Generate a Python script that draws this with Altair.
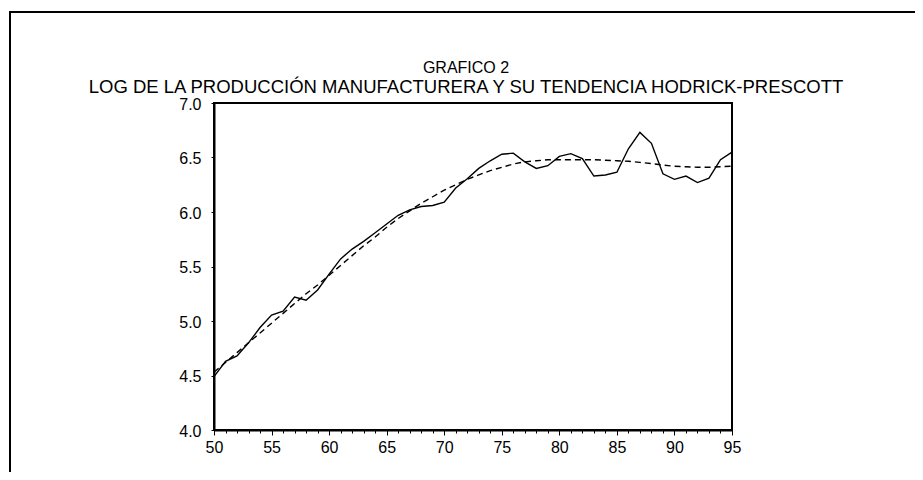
import altair as alt
import pandas as pd

years = list(range(50, 96))
produccion = [4.49, 4.63, 4.68, 4.80, 4.94, 5.055, 5.09, 5.22, 5.19, 5.285,
              5.43, 5.57, 5.66, 5.73, 5.81, 5.89, 5.97, 6.02, 6.05, 6.06,
              6.09, 6.22, 6.305, 6.40, 6.47, 6.53, 6.54, 6.46, 6.40, 6.425,
              6.51, 6.535, 6.49, 6.33, 6.34, 6.365, 6.58, 6.73, 6.63, 6.35,
              6.30, 6.33, 6.27, 6.31, 6.48, 6.55]
tendencia = [4.53, 4.62, 4.71, 4.80, 4.89, 4.98, 5.07, 5.16, 5.25, 5.33,
             5.42, 5.51, 5.60, 5.69, 5.77, 5.86, 5.94, 6.01, 6.08, 6.14,
             6.20, 6.25, 6.30, 6.34, 6.38, 6.41, 6.44, 6.46, 6.47, 6.48,
             6.48, 6.48, 6.48, 6.48, 6.475, 6.47, 6.465, 6.455, 6.445, 6.43,
             6.42, 6.415, 6.41, 6.41, 6.415, 6.42]
x_ticks = list(range(50, 96))
y_ticks = [4.0, 4.5, 5.0, 5.5, 6.0, 6.5, 7.0]
title_lines = ["GRAFICO 2",
               "LOG DE LA PRODUCCIÓN MANUFACTURERA Y SU TENDENCIA HODRICK-PRESCOTT"]

df = pd.DataFrame({"year": years, "prod": produccion, "trend": tendencia})

FONT = "Liberation Sans"

x_axis = alt.Axis(
    values=x_ticks,
    labelExpr="datum.value % 5 == 0 ? datum.label : ''",
    tickSize={"condition": {"test": "datum.value % 5 == 0", "value": 5}, "value": 3},
    tickColor="black", tickWidth=1, domainColor="black", domainWidth=2,
    labelFont=FONT, labelFontSize=16, labelColor="black", labelPadding=4,
    grid=False, title=None, labelFlush=False, labelOverlap=False,
)
y_axis = alt.Axis(
    values=y_ticks, format=".1f",
    tickSize=3, tickColor="black", tickWidth=1, domainColor="black", domainWidth=2,
    labelFont=FONT, labelFontSize=16, labelColor="black", labelPadding=10,
    labelBaseline="middle", labelOffset=1,
    grid=False, title=None, labelFlush=False, labelOverlap=False,
)

x_enc = alt.X("year:Q", scale=alt.Scale(domain=[50, 95], nice=False, zero=False), axis=x_axis)

solid = alt.Chart(df).mark_line(color="black", strokeWidth=1.4).encode(
    x=x_enc,
    y=alt.Y("prod:Q", scale=alt.Scale(domain=[4, 7], nice=False, zero=False), axis=y_axis),
)
dashed = alt.Chart(df).mark_line(color="black", strokeWidth=1.4, strokeDash=[6, 4]).encode(
    x=x_enc,
    y=alt.Y("trend:Q", scale=alt.Scale(domain=[4, 7], nice=False, zero=False), axis=y_axis),
)
border = alt.Chart(pd.DataFrame({"k": [0]})).mark_rect(
    filled=False, stroke="black", strokeWidth=2
).encode(
    x=alt.value(-204), x2=alt.value(800), y=alt.value(-91), y2=alt.value(500)
)

title1 = alt.Chart(pd.DataFrame({"t": [title_lines[0]]})).mark_text(
    font=FONT, fontSize=16, color="black", align="center", baseline="alphabetic"
).encode(text="t:N", x=alt.value(252), y=alt.value(-30))
title2 = alt.Chart(pd.DataFrame({"t": [title_lines[1]]})).mark_text(
    font=FONT, fontSize=18.5, color="black", align="center", baseline="alphabetic"
).encode(text="t:N", x=alt.value(252), y=alt.value(-10))

chart = alt.layer(border, title1, title2, solid, dashed).properties(
    width=518, height=327,
    autosize=alt.AutoSizeParams(type="none"),
    padding={"left": 206, "top": 95, "right": 183, "bottom": 42},
).configure_view(stroke="black", strokeWidth=2)

chart.save("out.html", embed_options={"renderer": "svg", "actions": False})
